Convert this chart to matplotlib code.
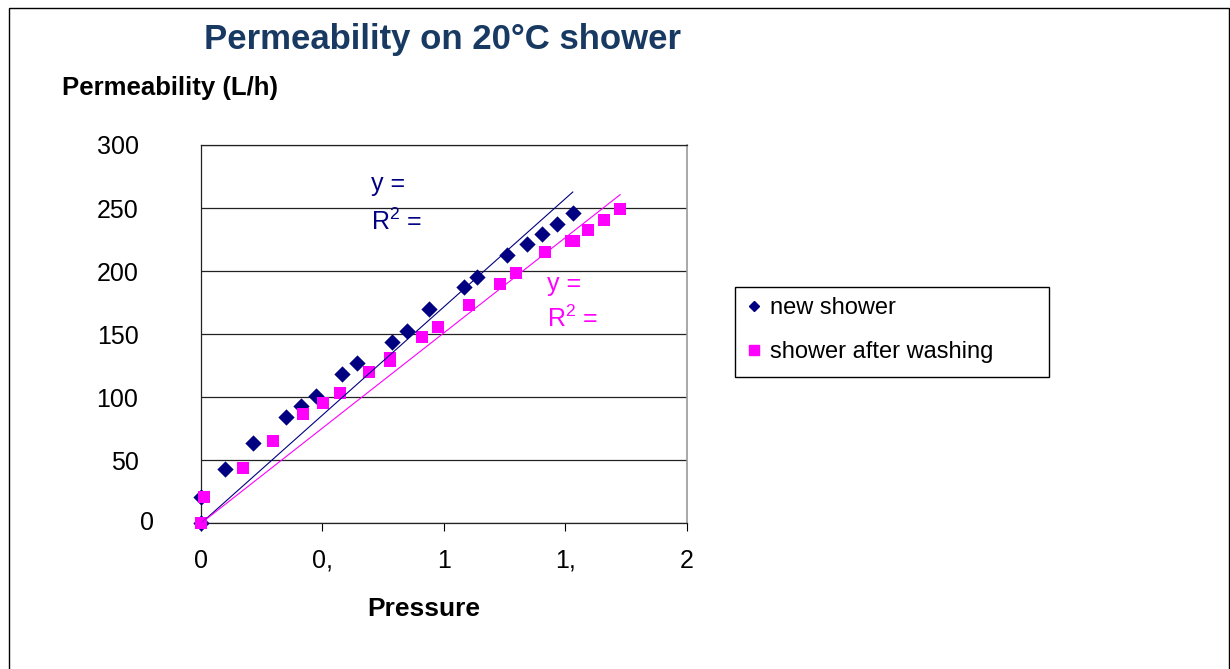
import matplotlib.pyplot as plt
from matplotlib.lines import Line2D
from matplotlib.patches import Rectangle

plt.rcParams["font.family"] = ["Liberation Sans", "DejaVu Sans"]
plt.rcParams["mathtext.fontset"] = "custom"
plt.rcParams["mathtext.rm"] = "Liberation Sans"

# readings
new_x = [0.0, 0.0, 0.099, 0.215, 0.349, 0.412, 0.474, 0.581, 0.644, 0.788,
         0.850, 0.938, 1.083, 1.135, 1.262, 1.341, 1.403, 1.465, 1.531]
new_y = [0, 21, 43, 63.5, 84.6, 93.1, 101.3, 118.5, 127, 144.1,
         152.6, 170.1, 187.3, 195.7, 212.9, 221.4, 229.8, 237.3, 246]

washed_x = [0.0, 0.012, 0.174, 0.295, 0.419, 0.504, 0.572, 0.692, 0.778, 0.778,
            0.912, 0.977, 1.105, 1.231, 1.297, 1.418, 1.525, 1.537, 1.595, 1.660, 1.726]
washed_y = [0, 21, 44.1, 65.3, 86.5, 95.2, 103.2, 120.3, 128.5, 131,
            148.1, 156, 173.3, 189.9, 198.4, 215.1, 224, 224, 232.8, 240.7, 249.2]

# trendlines through the origin (slope)
new_slope = 171.6
washed_slope = 151.0

x_ticks = [0, 0.5, 1, 1.5, 2]
x_tick_labels = ["0", "0,", "1", "1,", "2"]
y_ticks = [0, 50, 100, 150, 200, 250, 300]

NAVY = "#000080"
PINK = "#FF00FF"
W, H = 1230, 669

fig = plt.figure(figsize=(W / 100, H / 100), dpi=100)
ax = fig.add_axes([201 / W, 1 - 523.3 / H, 485.7 / W, 378.3 / H])

ax.scatter(new_x, new_y, marker="D", s=8.3 ** 2, color=NAVY, linewidths=0,
           zorder=3, clip_on=False)
ax.scatter(washed_x, washed_y, marker="s", s=9 ** 2, color=PINK, linewidths=0,
           zorder=4, clip_on=False)

for xs, slope, col in [(new_x, new_slope, NAVY), (washed_x, washed_slope, PINK)]:
    x_end = max(xs)
    ax.plot([0, x_end], [0, slope * x_end], color=col, lw=0.8, zorder=5)

ax.text(0.698, 269, "y =", color=NAVY, fontsize=18, va="center", ha="left")
ax.text(0.698, 239, "R$^{2}$ =", color=NAVY, fontsize=18, va="center", ha="left")
ax.text(1.424, 190, "y =", color=PINK, fontsize=18, va="center", ha="left")
ax.text(1.424, 162, "R$^{2}$ =", color=PINK, fontsize=18, va="center", ha="left")

ax.set_xlim(0, 2)
ax.set_ylim(0, 300)
ax.set_xticks(x_ticks)
ax.set_xticklabels(x_tick_labels)
ax.set_yticks(y_ticks)
ax.set_yticklabels([""] + [str(v) for v in y_ticks[1:]])
ax.tick_params(axis="x", direction="out", length=5.5, width=0.8, pad=13, labelsize=18)
ax.tick_params(axis="y", length=0, pad=45, labelsize=18)
ax.text(-47 / 485.7, 0, "0", fontsize=18, ha="right", va="center",
        transform=ax.get_yaxis_transform())

ax.grid(axis="y", color="#222222", lw=0.9)
ax.set_axisbelow(True)
for side in ["left", "bottom", "top"]:
    ax.spines[side].set_color("#222222")
    ax.spines[side].set_linewidth(0.9)
ax.spines["right"].set_color("#999999")
ax.spines["right"].set_linewidth(1.2)

fig.text(442 / W, 1 - 40 / H, "Permeability on 20°C shower", fontsize=25,
         fontweight="bold", color="#183a62", ha="center", va="center")
fig.text(62 / W, 1 - 88 / H, "Permeability (L/h)", fontsize=18.5,
         fontweight="bold", ha="left", va="center")
fig.text(424 / W, 1 - 609 / H, "Pressure", fontsize=19, fontweight="bold",
         ha="center", va="center")

# outer chart border and legend box
fig.patches.append(Rectangle((9 / W, -0.01), (1228.5 - 9) / W, 1 - 8 / H + 0.01,
                             transform=fig.transFigure, fill=False,
                             edgecolor="black", lw=1))
fig.patches.append(Rectangle((735 / W, 1 - 377 / H), 314 / W, 90 / H,
                             transform=fig.transFigure, fill=False,
                             edgecolor="black", lw=1))

handles = [
    Line2D([], [], ls="none", marker="D", ms=5.5, color=NAVY),
    Line2D([], [], ls="none", marker="s", ms=7, color=PINK),
]
fig.legend(handles, ["new shower", "shower after washing"], loc="upper left",
           bbox_to_anchor=(745 / W, 1 - 297 / H), bbox_transform=fig.transFigure,
           frameon=False, fontsize=17, borderaxespad=0, borderpad=0,
           labelspacing=0.95, handlelength=0.8, handletextpad=0.25)

fig.savefig("out.png", dpi=100)
